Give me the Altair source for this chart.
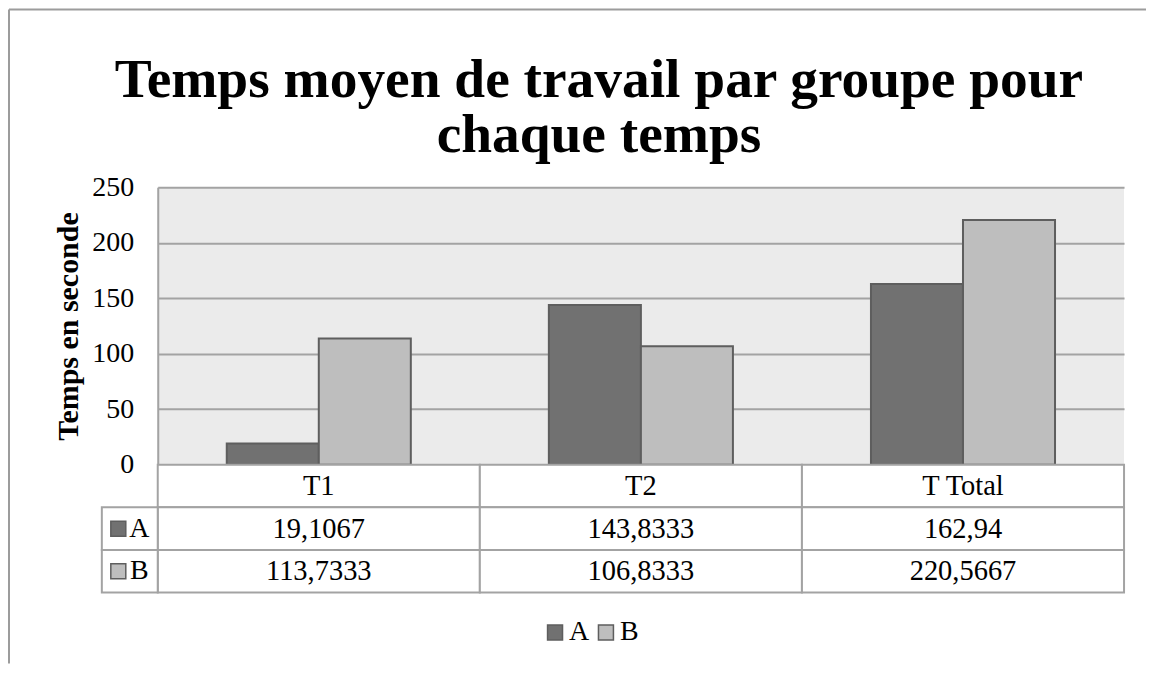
import altair as alt
import pandas as pd

categories = ["T1", "T2", "T Total"]
groups = ["A", "B"]
values_a = [19.1067, 143.8333, 162.94]
values_b = [113.7333, 106.8333, 220.5667]
y_ticks = [0, 50, 100, 150, 200, 250]
title_lines = ["Temps moyen de travail par groupe pour", "chaque temps"]
y_title = "Temps en seconde"
colors = ["#717171", "#bebebe"]

FONT = "Liberation Serif"
GRID = "#a3a3a3"
EDGE = "#5e5e5e"

rows = []
for g, vals in zip(groups, [values_a, values_b]):
    for c, v in zip(categories, vals):
        rows.append({"cat": c, "group": g, "value": v,
                     "label": str(v).replace(".", ",")})
df = pd.DataFrame(rows)

W, H, TH = 968, 278, 128

color = alt.Color(
    "group:N",
    scale=alt.Scale(domain=groups, range=colors),
    legend=alt.Legend(
        orient="none", legendX=384, legendY=432, direction="horizontal",
        title=None, symbolType="square", symbolSize=225,
        symbolStrokeColor=EDGE, symbolStrokeWidth=1.5,
        labelFont=FONT, labelFontSize=28, labelColor="black",
        labelOffset=0, columnPadding=2, padding=0,
    ),
)

xscale = alt.Scale(domain=categories, paddingInner=0, paddingOuter=0)

bars = alt.Chart(df).mark_bar(stroke=EDGE, strokeWidth=2).encode(
    x=alt.X("cat:N", scale=xscale, axis=None),
    xOffset=alt.XOffset("group:N", scale=alt.Scale(domain=groups, paddingInner=0, paddingOuter=0.75)),
    y=alt.Y(
        "value:Q",
        scale=alt.Scale(domain=[0, 250], nice=False),
        axis=alt.Axis(
            values=y_ticks, title=y_title, ticks=False, tickSize=0,
            labelFont=FONT, labelFontSize=28, labelColor="black", labelPadding=24,
            domainColor=GRID, domainWidth=2, gridColor=GRID, gridWidth=2, grid=True,
            titleFont=FONT, titleFontSize=30, titleFontWeight="bold",
            titleColor="black", titlePadding=8,
        ),
    ),
    color=color,
)

top = bars.properties(
    width=W, height=H, view=alt.ViewBackground(fill="#ebebeb", stroke=None),
    title=alt.TitleParams(
        text=title_lines, font=FONT, fontSize=55.5, fontWeight="bold", color="black",
        lineHeight=55, anchor="middle", frame="group", dx=-42, offset=10,
    ),
)

# data table under the plot
row_order = ["hdr"] + groups
cells = [{"cat": c, "row": "hdr", "text": c} for c in categories]
for r in rows:
    cells.append({"cat": r["cat"], "row": r["group"], "text": r["label"]})
tdf = pd.DataFrame(cells)

ty = alt.Y("row:N", scale=alt.Scale(domain=row_order, paddingInner=0, paddingOuter=0), axis=None)
tx = alt.X("cat:N", scale=xscale, axis=None)

grid_cells = alt.Chart(tdf).mark_rect(fill="white", stroke=GRID, strokeWidth=2).encode(x=tx, y=ty)
cell_text = alt.Chart(tdf).mark_text(font=FONT, fontSize=28.5, color="black", baseline="middle").encode(
    x=tx, y=ty, text="text:N")

kdf = pd.DataFrame({"row": groups, "group": groups})
key_cells = alt.Chart(kdf).mark_rect(fill="white", stroke=GRID, strokeWidth=2).encode(
    x=alt.value(-56), x2=alt.value(0), y=ty)
key_sym = alt.Chart(kdf).mark_point(shape="square", filled=True, size=225, stroke=EDGE,
                                    strokeWidth=1.5, opacity=1).encode(
    x=alt.value(-39.5), y=ty, color=color)
key_txt = alt.Chart(kdf).mark_text(font=FONT, fontSize=28, color="black", baseline="middle").encode(
    x=alt.value(-18.5), y=ty, text="group:N")

# outer chart frame (only its top and left edges fall inside the picture)
one = pd.DataFrame({"k": [0]})
frame_left = alt.Chart(one).mark_rule(color="#9c9c9c", strokeWidth=2).encode(
    x=alt.value(-149), y=alt.value(-456), y2=alt.value(199))
frame_top = alt.Chart(one).mark_rule(color="#9c9c9c", strokeWidth=2).encode(
    x=alt.value(-149), x2=alt.value(990), y=alt.value(-456))

table = alt.layer(grid_cells, cell_text, key_cells, key_sym, key_txt, frame_left, frame_top).properties(
    width=W, height=TH, view=alt.ViewBackground(stroke=None))

chart = alt.vconcat(top, table, spacing=0, bounds="flush").properties(
    padding=0,
).configure_view(stroke=None)

chart.save("out.html", embed_options={"renderer": "svg", "actions": False})
